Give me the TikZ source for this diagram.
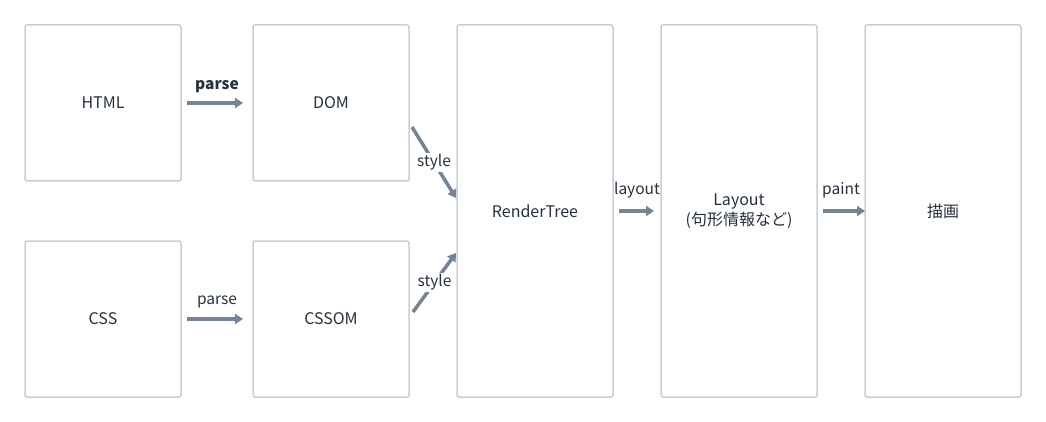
\documentclass[tikz,border=0pt]{standalone}
\usepackage{fontspec}
\setmainfont{Noto Sans CJK JP}
\usetikzlibrary{positioning}
\usetikzlibrary{arrows.meta}
\definecolor{boxline}{HTML}{C5D0DA}
\definecolor{arrowgray}{HTML}{748494}
\definecolor{textdark}{HTML}{25313F}
\tikzset{
    mybox/.style = {rectangle, rounded corners=2pt, line width=1.5pt, draw=boxline, fill=white, align=center, minimum width=156pt, minimum height=156pt, outer sep=0pt, font=\fontsize{16}{20}\selectfont, text=textdark},
    mytallbox/.style = {mybox, minimum height=372pt},
    myarrow/.style = {-{Triangle[length=8pt,width=10pt]}, line width=3.5pt, arrowgray},
    mylabel/.style = {font=\fontsize{15.5}{17}\selectfont, text=textdark, inner sep=1pt},
    mylabelw/.style = {mylabel, fill=white, inner sep=2pt}
}
\begin{document}
\begin{tikzpicture}[x=1pt, y=-1pt]
  \useasboundingbox (0,0) rectangle (1046,422);
  % input and object model
  \node[mybox] (html) at (103,103) {HTML};
  \node[mybox, right=72pt of html] (dom) {DOM};
  \node[mybox, below=60pt of html] (css) {CSS};
  \node[mybox, right=72pt of css] (cssom) {CSSOM};
  % render pipeline
  \node[mytallbox] (render) at (535,211) {RenderTree};
  \node[mytallbox, right=48pt of render] (layout) {Layout\\(句形情報など)};
  \node[mytallbox, right=48pt of layout] (paint) {描画};
  \draw[myarrow, shorten <=6pt, shorten >=10pt] (html) -- node[mylabel, above=8pt, font=\fontsize{15.5}{17}\selectfont\bfseries] {parse} (dom);
  \draw[myarrow, shorten <=6pt, shorten >=10pt] (css) -- node[mylabel, above=8pt] {parse} (cssom);
  \draw[myarrow] ([shift={(3,24)}]dom.east) -- node[mylabelw] {style} ([shift={(-1,-13)}]render.west);
  \draw[myarrow] ([shift={(4,-7)}]cssom.east) -- node[mylabelw] {style} ([shift={(-1,42)}]render.west);
  \draw[myarrow, shorten <=6pt, shorten >=7pt] (render) -- node[mylabel, above=10pt] {layout} (layout);
  \draw[myarrow, shorten <=6pt] (layout) -- node[mylabel, above=10pt] {paint} (paint);
\end{tikzpicture}
\end{document}
